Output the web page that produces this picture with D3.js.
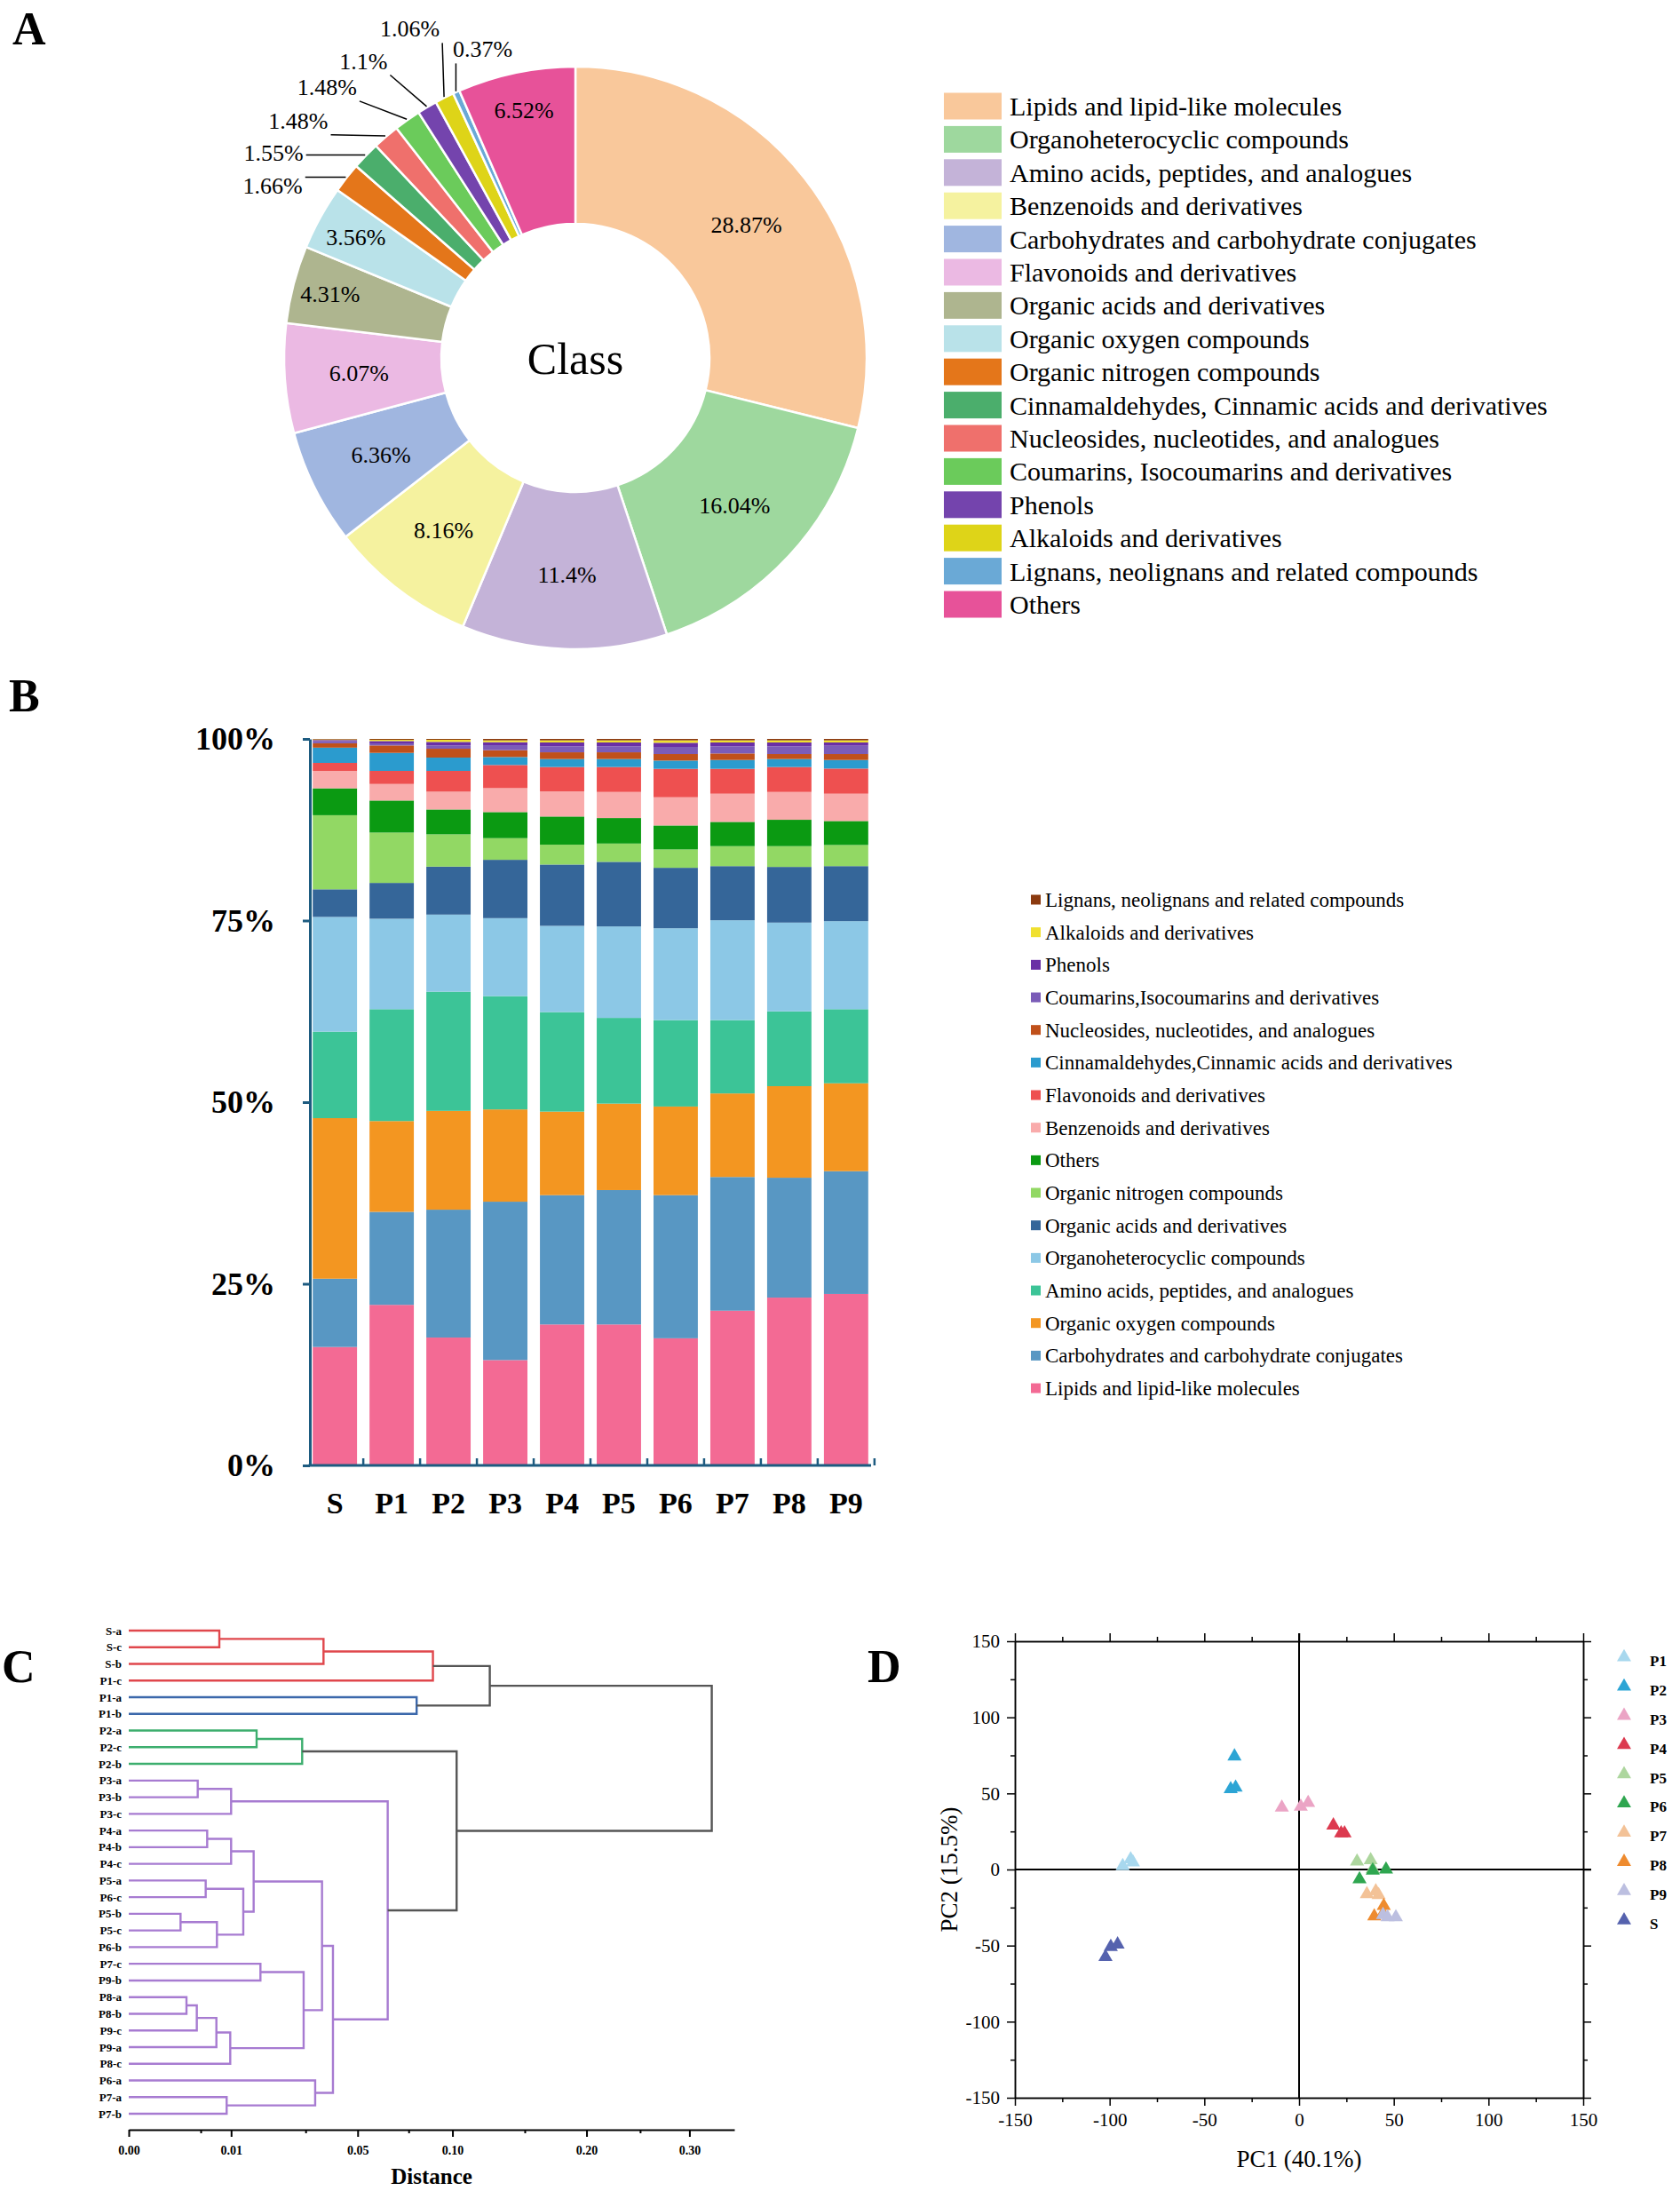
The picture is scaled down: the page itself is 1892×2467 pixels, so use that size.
<!DOCTYPE html>
<html>
<head>
<meta charset="utf-8">
<script src="https://cdn.jsdelivr.net/npm/d3@7"></script>
<style>
  body { margin: 0; background: #fff; }
  svg { display: block; font-family: "Liberation Serif", "Times New Roman", serif; }
</style>
</head>
<body>
<svg id="fig" width="1892" height="2467"></svg>
<script>
// ---------------- Panel A : class share (donut) ----------------
const classesA = [
  "Lipids and lipid-like molecules", "Organoheterocyclic compounds",
  "Amino acids, peptides, and analogues", "Benzenoids and derivatives",
  "Carbohydrates and carbohydrate conjugates", "Flavonoids and derivatives",
  "Organic acids and derivatives", "Organic oxygen compounds",
  "Organic nitrogen compounds", "Cinnamaldehydes, Cinnamic acids and derivatives",
  "Nucleosides, nucleotides, and analogues", "Coumarins, Isocoumarins and derivatives",
  "Phenols", "Alkaloids and derivatives", "Lignans, neolignans and related compounds", "Others"
];
const percentA = [28.87, 16.04, 11.4, 8.16, 6.36, 6.07, 4.31, 3.56, 1.66, 1.55, 1.48, 1.48, 1.1, 1.06, 0.37, 6.52];
const colorsA = ["#F9C89B", "#9ED89E", "#C4B3D8", "#F5F29F", "#A0B6E0", "#EBB9E3", "#AEB58F", "#B9E2E9",
                 "#E4761A", "#4BAE6C", "#EF706C", "#6BCB5B", "#7444AD", "#DED418", "#6AA9D6", "#E75299"];

// ---------------- Panel B : stacked composition per sample ----------------
const samples = ["S", "P1", "P2", "P3", "P4", "P5", "P6", "P7", "P8", "P9"];
// bottom to top
const classesB = [
  "Lipids and lipid-like molecules", "Carbohydrates and carbohydrate conjugates", "Organic oxygen compounds",
  "Amino acids, peptides, and analogues", "Organoheterocyclic compounds", "Organic acids and derivatives",
  "Organic nitrogen compounds", "Others", "Benzenoids and derivatives", "Flavonoids and derivatives",
  "Cinnamaldehydes,Cinnamic acids and derivatives", "Nucleosides, nucleotides, and analogues",
  "Coumarins,Isocoumarins and derivatives", "Phenols", "Alkaloids and derivatives",
  "Lignans, neolignans and related compounds"
];
const colorsB = ["#F36A94", "#5897C3", "#F39621", "#3CC497", "#8CC8E6", "#356699", "#92D864", "#0B9A12",
                 "#F9ABAB", "#EE5050", "#2B9BCE", "#C0501A", "#7B5CB8", "#6A2FA5", "#F0E030", "#8B3A0F"];
const lipidsB     = [16.3, 22.1, 17.6, 14.5, 19.4, 19.4, 17.5, 21.3, 23.1, 23.6];
const carbB       = [9.4, 12.8, 17.6, 21.8, 17.8, 18.5, 19.7, 18.4, 16.5, 16.9];
const oxygenB     = [22.1, 12.5, 13.6, 12.7, 11.5, 11.9, 12.2, 11.5, 12.6, 12.1];
const aminoB      = [11.9, 15.4, 16.4, 15.6, 13.7, 11.8, 11.9, 10.1, 10.3, 10.2];
const heteroB     = [15.8, 12.45, 10.62, 10.73, 11.87, 12.59, 12.64, 13.74, 12.22, 12.12];
const acidsB      = [3.8, 4.93, 6.6, 8.03, 8.44, 8.89, 8.32, 7.45, 7.66, 7.57];
const nitrogenB   = [10.2, 6.93, 4.45, 2.98, 2.73, 2.52, 2.53, 2.75, 2.86, 2.91];
const othersB     = [3.7, 4.41, 3.42, 3.59, 3.88, 3.51, 3.30, 3.34, 3.63, 3.30];
const benzB       = [2.4, 2.28, 2.45, 3.30, 3.46, 3.59, 3.88, 3.88, 3.83, 3.76];
const flavB       = [1.1, 1.80, 2.86, 3.18, 3.35, 3.43, 3.91, 3.42, 3.43, 3.46];
const cinnB       = [2.1, 2.48, 1.83, 1.10, 1.10, 1.10, 1.14, 1.22, 1.10, 1.18];
const nuclB       = [0.6, 1.02, 1.22, 0.94, 0.93, 0.93, 0.90, 0.90, 0.69, 0.82];
const coumB       = [0.3, 0.29, 0.45, 0.69, 0.82, 0.82, 0.98, 0.98, 1.06, 1.14];
const phenB       = [0.15, 0.32, 0.49, 0.41, 0.53, 0.53, 0.57, 0.53, 0.53, 0.45];
const alkB        = [0.08, 0.17, 0.29, 0.25, 0.29, 0.29, 0.33, 0.29, 0.29, 0.29];
const lignB       = [0.07, 0.12, 0.12, 0.20, 0.20, 0.20, 0.20, 0.20, 0.20, 0.20];
const seriesB = [lipidsB, carbB, oxygenB, aminoB, heteroB, acidsB, nitrogenB, othersB,
                 benzB, flavB, cinnB, nuclB, coumB, phenB, alkB, lignB];
const ticksB = [0, 25, 50, 75, 100];

// ---------------- Panel C : hierarchical clustering ----------------
const leaves = ["S-a", "S-c", "S-b", "P1-c", "P1-a", "P1-b", "P2-a", "P2-c", "P2-b", "P3-a", "P3-b", "P3-c",
                "P4-a", "P4-b", "P4-c", "P5-a", "P6-c", "P5-b", "P5-c", "P6-b", "P7-c", "P9-b", "P8-a",
                "P8-b", "P9-c", "P9-a", "P8-c", "P6-a", "P7-a", "P7-b"];
// [child a, child b, height]; ids >= 30 are earlier merges (30 + index)
const merges = [
  [17, 18, 0.00256], [22, 23, 0.00318], [31, 24, 0.00442], [9, 10, 0.00454], [15, 16, 0.00565],
  [12, 13, 0.00587], [32, 25, 0.00733], [30, 19, 0.00742], [0, 1, 0.00783], [28, 29, 0.00915],
  [36, 26, 0.00983], [33, 11, 0.0100], [35, 14, 0.0100], [34, 37, 0.01252], [42, 43, 0.01489],
  [6, 7, 0.0156], [20, 21, 0.01655], [46, 40, 0.02919], [45, 8, 0.0287], [27, 39, 0.03317],
  [44, 47, 0.03565], [38, 2, 0.0362], [50, 49, 0.0398], [41, 52, 0.0640], [4, 5, 0.0791],
  [51, 3, 0.0883], [55, 54, 0.1244], [48, 53, 0.1026], [56, 57, 0.3244]
];
const clusterRoots = [55, 54, 48, 53];
const clusterColors = ["#E0474C", "#3B68AB", "#3DAE6E", "#A77BD1"];
const distTicks = [0, 0.01, 0.05, 0.1, 0.2, 0.3];
const distMinor = [0.005, 0.03, 0.075, 0.15, 0.25];

// ---------------- Panel D : PCA ----------------
const groupsD = ["P1", "P2", "P3", "P4", "P5", "P6", "P7", "P8", "P9", "S"];
const colorsD = ["#A8D8EE", "#2CA5D5", "#EBA4C5", "#DC3A4F", "#ADD69E", "#2FA650", "#F3C297", "#EE8B2F", "#BCBFE0", "#5562AE"];
const pc1 = [[-88.9, -93.1, -87.7], [-34.1, -36.1, -33.5], [-9.1, 0.9, 4.8], [18.1, 22.2, 24.0], [30.6, 37.8, 38.9],
             [38.9, 45.9, 31.9], [35.8, 40.5, 42.0], [44.7, 39.7, 44.3], [44.3, 46.7, 51.1], [-99.4, -95.8, -102.2]];
const pc2 = [[6.8, 2.3, 4.7], [74.4, 52.9, 53.9], [40.7, 41.3, 43.8], [29.0, 23.8, 23.8], [5.3, 6.2, 0.4],
             [-0.6, 0.0, -6.4], [-16.1, -14.2, -16.7], [-23.9, -30.7, -28.8], [-29.8, -31.3, -31.3], [-50.8, -49.2, -57.5]];
const pcTicks = [-150, -100, -50, 0, 50, 100, 150];
const pcMinor = [-125, -75, -25, 25, 75, 125];

const svg = d3.select("#fig");

drawPanelLetters();
drawDonut();
drawStacked();
drawDendrogram();
drawPCA();

function drawPanelLetters() {
  const letters = [["A", 14, 50], ["B", 10, 801], ["C", 2, 1894], ["D", 977, 1894]];
  svg.selectAll("text.panel").data(letters).join("text")
    .attr("class", "panel")
    .attr("x", d => d[1]).attr("y", d => d[2])
    .attr("font-size", 52).attr("font-weight", "bold")
    .text(d => d[0]);
}

function drawDonut() {
  const cx = 648, cy = 403, outerR = 328, innerR = 151;
  const g = svg.append("g").attr("transform", `translate(${cx},${cy})`);
  const data = classesA.map((c, i) => ({ name: c, value: percentA[i], color: colorsA[i] }));
  const arcs = d3.pie().sort(null).value(d => d.value)(data);
  const arc = d3.arc().innerRadius(innerR).outerRadius(outerR);

  g.selectAll("path").data(arcs).join("path")
    .attr("d", arc)
    .attr("fill", d => d.data.color)
    .attr("stroke", "#fff")
    .attr("stroke-width", 2.5);

  // labels pushed further out in their slice
  const farInside = { "Organic acids and derivatives": 0.87, "Organic oxygen compounds": 0.86, "Others": 0.87 };
  // small slices are labelled outside: [angle deg, radius]
  const outside = {
    "Organic nitrogen compounds": [299.6, 392],
    "Cinnamaldehydes, Cinnamic acids and derivatives": [304.2, 411],
    "Nucleosides, nucleotides, and analogues": [310.6, 411],
    "Coumarins, Isocoumarins and derivatives": [317.5, 414],
    "Phenols": [324.5, 411],
    "Alkaloids and derivatives": [333.3, 415],
    "Lignans, neolignans and related compounds": [343.3, 363]
  };
  const polar = (a, r) => [r * Math.sin(a), -r * Math.cos(a)];

  arcs.forEach(d => {
    const mid = (d.startAngle + d.endAngle) / 2;
    const label = d.data.value + "%";
    if (outside[d.data.name]) {
      const [deg, r] = outside[d.data.name];
      const [tx, ty] = polar(deg * Math.PI / 180, r);
      const t = g.append("text").attr("x", tx).attr("y", ty).attr("dy", "0.35em")
        .attr("text-anchor", "middle").attr("font-size", 26).text(label);
      const bb = t.node().getBBox();
      const [ex, ey] = polar(mid, outerR + 1);
      const px = Math.max(bb.x - 3, Math.min(ex, bb.x + bb.width + 3));
      const py = Math.max(bb.y - 1, Math.min(ey, bb.y + bb.height + 1));
      g.append("line").attr("x1", ex).attr("y1", ey).attr("x2", px).attr("y2", py)
        .attr("stroke", "#000").attr("stroke-width", 1.5);
    } else {
      const f = farInside[d.data.name] || 0.745;
      const [tx, ty] = polar(mid, outerR * f);
      g.append("text").attr("x", tx).attr("y", ty).attr("dy", "0.35em")
        .attr("text-anchor", "middle").attr("font-size", 26).text(label);
    }
  });

  g.append("text").attr("y", 0).attr("dy", "0.35em").attr("text-anchor", "middle")
    .attr("font-size", 50).text("Class");

  // legend
  const leg = svg.append("g").attr("transform", "translate(1063,119.5)");
  const rows = leg.selectAll("g").data(data).join("g")
    .attr("transform", (d, i) => `translate(0,${i * 37.4})`);
  rows.append("rect").attr("x", 0).attr("y", -15).attr("width", 65).attr("height", 30)
    .attr("fill", d => d.color);
  rows.append("text").attr("x", 74).attr("dy", "0.35em").attr("font-size", 30).text(d => d.name);
}

function drawStacked() {
  const axisColor = "#1D5B80";
  const table = samples.map((s, i) => {
    const row = { sample: s };
    classesB.forEach((c, k) => { row[c] = seriesB[k][i]; });
    return row;
  });
  const stack = d3.stack().keys(classesB)(table);

  const x = d3.scaleBand().domain(samples).range([349, 981]).paddingInner(0.22).paddingOuter(0.05);
  const y = d3.scaleLinear().domain([0, 100]).range([1650, 832]);

  const g = svg.append("g");
  g.selectAll("g.layer").data(stack).join("g")
    .attr("class", "layer")
    .attr("fill", (d, i) => colorsB[i])
    .selectAll("rect").data(d => d).join("rect")
      .attr("x", d => x(d.data.sample))
      .attr("width", x.bandwidth())
      .attr("y", d => y(d[1]))
      .attr("height", d => Math.max(0, y(d[0]) - y(d[1])));

  // y axis
  const yAxis = g.append("g").attr("transform", "translate(349,0)")
    .call(d3.axisLeft(y).tickValues(ticksB).tickFormat(d => d + "%").tickSize(8).tickPadding(31).tickSizeOuter(0));
  yAxis.select(".domain").attr("stroke", axisColor).attr("stroke-width", 3);
  yAxis.selectAll(".tick line").attr("stroke", axisColor).attr("stroke-width", 3);
  yAxis.selectAll(".tick text").attr("fill", "#000").attr("font-size", 36).attr("font-weight", "bold")
    .attr("font-family", '"Liberation Serif", "Times New Roman", serif');

  // x axis
  const xAxis = g.append("g").attr("transform", "translate(0,1650)")
    .call(d3.axisBottom(x).tickSize(0).tickPadding(30));
  xAxis.select(".domain").attr("stroke", axisColor).attr("stroke-width", 3)
    .attr("d", "M347.5,0H981");
  xAxis.selectAll(".tick text").attr("fill", "#000").attr("font-size", 34).attr("font-weight", "bold")
    .attr("font-family", '"Liberation Serif", "Times New Roman", serif');
  const gap = x.step() * x.paddingInner();
  const sep = samples.slice(1).map(s => x(s) - gap / 2).concat([x(samples[samples.length - 1]) + x.bandwidth() + gap / 2]);
  xAxis.selectAll("line.sep").data(sep).join("line")
    .attr("class", "sep")
    .attr("x1", d => d).attr("x2", d => d).attr("y1", 0).attr("y2", -8)
    .attr("stroke", axisColor).attr("stroke-width", 2.5);

  // legend (top item = top of stack)
  const legendItems = classesB.map((c, i) => ({ name: c, color: colorsB[i] })).reverse();
  const leg = svg.append("g").attr("transform", "translate(1161,1013)");
  const rows = leg.selectAll("g").data(legendItems).join("g")
    .attr("transform", (d, i) => `translate(0,${i * 36.67})`);
  rows.append("rect").attr("x", 0).attr("y", -5.5).attr("width", 11).attr("height", 11)
    .attr("fill", d => d.color);
  rows.append("text").attr("x", 16).attr("dy", "0.35em").attr("font-size", 23).text(d => d.name);
}

function drawDendrogram() {
  const x = d3.scaleSqrt().domain([0, 0.35]).range([145, 827]);
  const y = d3.scalePoint().domain(leaves).range([1836, 2380]);

  const nodes = leaves.map(name => ({ x: x(0), y: y(name) }));
  merges.forEach(([a, b, h]) => nodes.push({ x: x(h), y: (nodes[a].y + nodes[b].y) / 2, kids: [a, b] }));

  const color = nodes.map(() => "#555555");
  function paint(id, col) {
    color[id] = col;
    if (nodes[id].kids) nodes[id].kids.forEach(k => paint(k, col));
  }
  clusterRoots.forEach((id, i) => paint(id, clusterColors[i]));

  const g = svg.append("g");
  const inner = nodes.map((n, id) => ({ n, id })).filter(d => d.n.kids);
  g.selectAll("path").data(inner).join("path")
    .attr("fill", "none")
    .attr("stroke", d => color[d.id])
    .attr("stroke-width", 2.4)
    .attr("d", d => {
      const a = nodes[d.n.kids[0]], b = nodes[d.n.kids[1]];
      return `M${a.x},${a.y}H${d.n.x}V${b.y}H${b.x}`;
    });

  g.selectAll("text.leaf").data(leaves).join("text")
    .attr("class", "leaf")
    .attr("x", 137).attr("y", d => y(d)).attr("dy", "0.35em")
    .attr("text-anchor", "end").attr("font-size", 13).attr("font-weight", "bold")
    .text(d => d);

  const axis = g.append("g").attr("transform", "translate(0,2398)");
  axis.call(d3.axisBottom(x).tickValues(distTicks).tickFormat(d3.format(".2f")).tickSize(8).tickPadding(10).tickSizeOuter(0));
  axis.select(".domain").attr("stroke", "#000").attr("stroke-width", 2);
  axis.selectAll(".tick line").attr("stroke", "#000").attr("stroke-width", 2);
  axis.selectAll(".tick text").attr("font-size", 14).attr("font-weight", "bold")
    .attr("font-family", '"Liberation Serif", "Times New Roman", serif');
  axis.selectAll("line.minor").data(distMinor).join("line")
    .attr("class", "minor")
    .attr("x1", d => x(d)).attr("x2", d => x(d)).attr("y1", 0).attr("y2", 4)
    .attr("stroke", "#000").attr("stroke-width", 2);

  g.append("text").attr("x", 486).attr("y", 2459).attr("text-anchor", "middle")
    .attr("font-size", 25).attr("font-weight", "bold").text("Distance");
}

function drawPCA() {
  const x = d3.scaleLinear().domain([-150, 150]).range([1143, 1783]);
  const y = d3.scaleLinear().domain([-150, 150]).range([2362, 1848]);
  const g = svg.append("g");
  const fmt = d => String(d);
  const serif = '"Liberation Serif", "Times New Roman", serif';

  function styleAxis(sel) {
    sel.select(".domain").attr("stroke", "#000").attr("stroke-width", 1.5);
    sel.selectAll(".tick line").attr("stroke", "#000").attr("stroke-width", 1.5);
    sel.selectAll(".tick text").attr("font-size", 21).attr("font-family", serif).attr("fill", "#000");
  }
  const sides = [
    [d3.axisBottom(x), `translate(0,${y(-150)})`, true],
    [d3.axisTop(x), `translate(0,${y(150)})`, false],
    [d3.axisLeft(y), `translate(${x(-150)},0)`, true],
    [d3.axisRight(y), `translate(${x(150)},0)`, false]
  ];
  sides.forEach(([ax, tr, labels]) => {
    const major = g.append("g").attr("transform", tr)
      .call(ax.tickValues(pcTicks).tickSize(9).tickSizeOuter(0).tickPadding(8).tickFormat(labels ? fmt : ""));
    styleAxis(major);
    const minor = g.append("g").attr("transform", tr)
      .call(ax.tickValues(pcMinor).tickSize(5).tickSizeOuter(0).tickFormat(""));
    styleAxis(minor);
  });

  // zero lines
  g.append("line").attr("x1", x(-150)).attr("x2", x(150) + 9).attr("y1", y(0)).attr("y2", y(0))
    .attr("stroke", "#000").attr("stroke-width", 2);
  g.append("line").attr("x1", x(0)).attr("x2", x(0)).attr("y1", y(150) - 9).attr("y2", y(-150))
    .attr("stroke", "#000").attr("stroke-width", 2);

  const tri = d3.symbol(d3.symbolTriangle, 110);
  const pts = [];
  groupsD.forEach((grp, i) => pc1[i].forEach((v, k) => pts.push({ g: i, x: v, y: pc2[i][k] })));
  g.selectAll("path.pt").data(pts).join("path")
    .attr("class", "pt")
    .attr("d", tri)
    .attr("transform", d => `translate(${x(d.x)},${y(d.y)})`)
    .attr("fill", d => colorsD[d.g]);

  g.append("text").attr("x", x(0)).attr("y", 2440).attr("text-anchor", "middle")
    .attr("font-size", 27).text("PC1 (40.1%)");
  g.append("text").attr("transform", `translate(1078,${y(0)}) rotate(-90)`).attr("text-anchor", "middle")
    .attr("font-size", 27).text("PC2 (15.5%)");

  const leg = g.append("g").attr("transform", "translate(1829,1866)");
  const rows = leg.selectAll("g").data(groupsD).join("g")
    .attr("transform", (d, i) => `translate(0,${i * 32.9})`);
  rows.append("path").attr("d", tri).attr("fill", (d, i) => colorsD[i]);
  rows.append("text").attr("x", 29).attr("y", 4).attr("dy", "0.35em")
    .attr("font-size", 17).attr("font-weight", "bold").text(d => d);
}
</script>
</body>
</html>
